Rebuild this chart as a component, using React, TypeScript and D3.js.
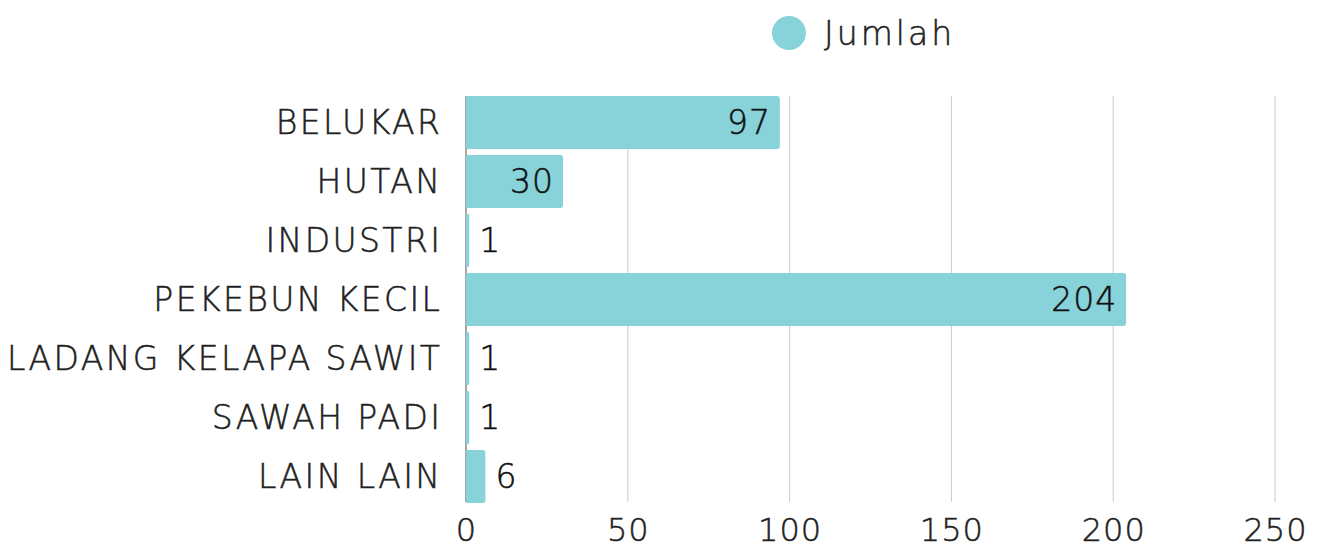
import React from "react";
import * as d3 from "d3";

const categories = ["BELUKAR", "HUTAN", "INDUSTRI", "PEKEBUN KECIL", "LADANG KELAPA SAWIT", "SAWAH PADI", "LAIN LAIN"];
const values = [97, 30, 1, 204, 1, 1, 6];
const xTicks = [0, 50, 100, 150, 200, 250];
const seriesName = "Jumlah";

const W = 1320;
const H = 549;
const FONT = "'DejaVu Sans', sans-serif";
const COLOR = "#88d3d9";
const TEXT = "#222";
const FS = 33;
const LS_LABEL = 2.4;
const LS_NUM = 1;
const SW = 0.5;

export default function App() {
  const x = d3.scaleLinear().domain([0, 250]).range([466, 1275]);
  const y = d3.scaleBand<string>().domain(categories).range([93, 506]).paddingInner(0.1).paddingOuter(0.05);
  const gridTop = 96;
  const gridBottom = 502;
  const bw = y.bandwidth();

  const barPath = (x0: number, x1: number, y0: number, h: number) => {
    const r = Math.min(3, (x1 - x0) / 2);
    const p = d3.path();
    p.moveTo(x0, y0);
    p.lineTo(x1 - r, y0);
    p.arcTo(x1, y0, x1, y0 + r, r);
    p.lineTo(x1, y0 + h - r);
    p.arcTo(x1, y0 + h, x1 - r, y0 + h, r);
    p.lineTo(x0, y0 + h);
    p.closePath();
    return p.toString();
  };

  return (
    <svg width={W} height={H} style={{ position: "absolute", left: 0, top: 0, fontFamily: FONT }}>
      <rect width={W} height={H} fill="#fff" />
      {xTicks.map((t) => (
        <line key={t} x1={x(t)} x2={x(t)} y1={gridTop} y2={gridBottom} stroke="#ccc" strokeWidth={1} />
      ))}
      <line x1={x(0)} x2={x(0)} y1={gridTop} y2={gridBottom} stroke="#666" strokeWidth={1} />
      {categories.map((c, i) => {
        const y0 = y(c)!;
        const x1 = x(values[i]);
        const inside = x1 - x(0) > 60;
        return (
          <g key={c}>
            <path d={barPath(x(0), Math.max(x1, x(0) + 3), y0, bw)} fill={COLOR} />
            <text
              x={inside ? x1 - 10 + LS_NUM : Math.max(x1, x(0) + 3) + 10}
              y={y0 + bw / 2}
              dy="0.36em"
              textAnchor={inside ? "end" : "start"}
              fontSize={FS}
              fill="#111"
              stroke="#111"
              strokeWidth={SW}
              fontWeight={200}
              letterSpacing={LS_NUM}
            >
              {values[i]}
            </text>
            <text
              x={440 + LS_LABEL}
              y={y0 + bw / 2}
              dy="0.36em"
              textAnchor="end"
              fontSize={FS}
              fill={TEXT}
              stroke={TEXT}
              strokeWidth={SW}
              fontWeight={200}
              letterSpacing={LS_LABEL}
            >
              {c}
            </text>
          </g>
        );
      })}
      {xTicks.map((t) => (
        <text
          key={"l" + t}
          x={x(t) + LS_NUM / 2}
          y={541}
          textAnchor="middle"
          fontSize={32}
          fill={TEXT}
          stroke={TEXT}
          strokeWidth={SW}
          fontWeight={200}
          letterSpacing={LS_NUM}
        >
          {t}
        </text>
      ))}
      <circle cx={789} cy={33} r={17} fill={COLOR} />
      <text
        x={824}
        y={33}
        dy="0.36em"
        fontSize={FS}
        fill={TEXT}
        stroke={TEXT}
        strokeWidth={SW}
        fontWeight={200}
        letterSpacing={3}
      >
        {seriesName}
      </text>
    </svg>
  );
}
